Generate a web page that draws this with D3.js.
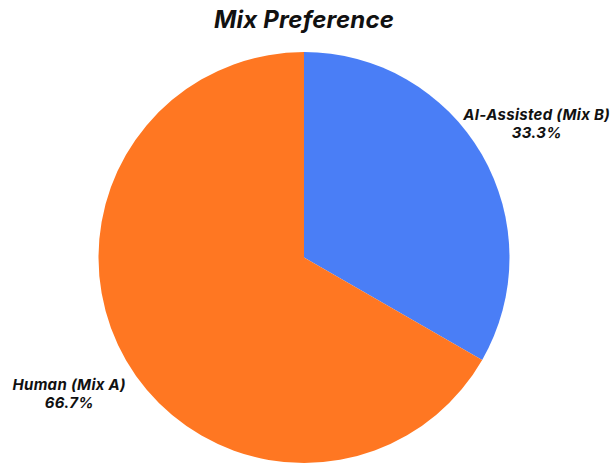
<!DOCTYPE html>
<html>
<head>
<meta charset="utf-8">
<script src="https://cdn.jsdelivr.net/npm/d3@7"></script>
<style>
  html, body { margin: 0; padding: 0; background: #ffffff; }
  svg { display: block; }
  text { font-family: Inter, "Open Sans", sans-serif; font-weight: 700; font-style: italic; fill: #111; }
</style>
</head>
<body>
<svg id="chart" width="614" height="463"></svg>
<script>
// Survey result: which mix listeners preferred
const categories = ["AI-Assisted (Mix B)", "Human (Mix A)"];
const values = [33.3, 66.7];
const colors = ["#4a7ef6", "#ff7722"];
const title = "Mix Preference";

const width = 614, height = 463;
const cx = 304, cy = 257.5, radius = 205.5;

const svg = d3.select("#chart");

svg.append("text")
  .attr("x", 304)
  .attr("y", 28)
  .attr("text-anchor", "middle")
  .style("font-size", "24px")
  .style("letter-spacing", "0.2px")
  .text(title);

const pie = d3.pie().sort(null).value(d => d.value);
const arc = d3.arc().innerRadius(0).outerRadius(radius);

const data = categories.map((c, i) => ({ name: c, value: values[i], color: colors[i] }));
const arcs = pie(data);

const g = svg.append("g").attr("transform", `translate(${cx},${cy})`);

g.selectAll("path")
  .data(arcs)
  .join("path")
  .attr("d", arc)
  .attr("fill", d => d.data.color);

// Label placement: pushed outward along each slice's mid-angle
const labelArc = d3.arc().innerRadius(radius * 1.23).outerRadius(radius * 1.23);
const labelOffsets = [[14, -7], [-16, 10]];

const labels = g.selectAll("g.label")
  .data(arcs)
  .join("g")
  .attr("class", "label")
  .attr("transform", (d, i) => {
    const [x, y] = labelArc.centroid(d);
    return `translate(${x + labelOffsets[i][0]},${y + labelOffsets[i][1]})`;
  });

labels.append("text")
  .attr("text-anchor", "middle")
  .attr("y", -4)
  .style("font-size", "15px")
  .style("letter-spacing", "0.3px")
  .text(d => d.data.name);

labels.append("text")
  .attr("text-anchor", "middle")
  .attr("y", 14)
  .style("font-size", "15px")
  .style("letter-spacing", "0.3px")
  .text(d => d.data.value.toFixed(1) + "%");
</script>
</body>
</html>
